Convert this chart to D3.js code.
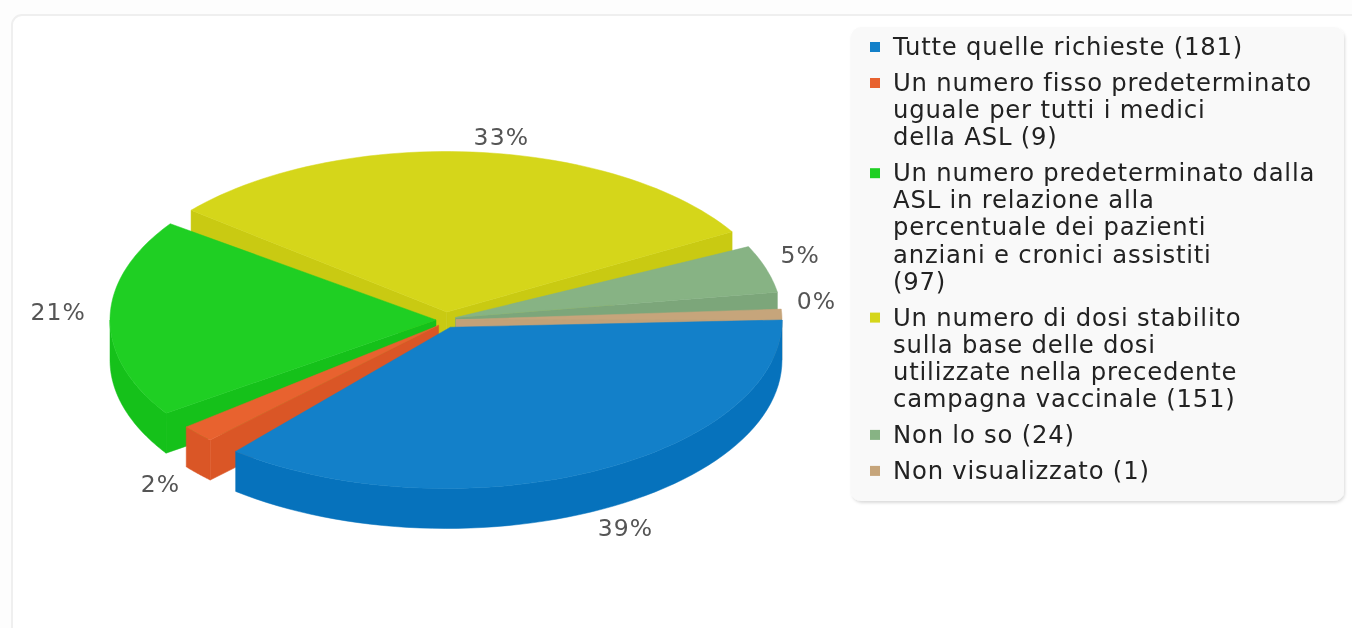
<!DOCTYPE html>
<html>
<head>
<meta charset="utf-8">
<script src="https://cdn.jsdelivr.net/npm/d3@7"></script>
<style>
html,body{margin:0;padding:0;background:#fdfdfd;overflow:hidden}
svg{display:block}
text{font-family:"DejaVu Sans",sans-serif}
</style>
</head>
<body>
<svg id="chart" width="1352" height="628"></svg>
<script>
// ---- data
const categories = ["Tutte quelle richieste","Un numero fisso predeterminato uguale per tutti i medici della ASL","Un numero predeterminato dalla ASL in relazione alla percentuale dei pazienti anziani e cronici assistiti","Un numero di dosi stabilito sulla base delle dosi utilizzate nella precedente campagna vaccinale","Non lo so","Non visualizzato"];
const seriesValues = [181, 9, 97, 151, 24, 1];
const legendLines = [
  ["Tutte quelle richieste (181)"],
  ["Un numero fisso predeterminato","uguale per tutti i medici","della ASL (9)"],
  ["Un numero predeterminato dalla","ASL in relazione alla","percentuale dei pazienti","anziani e cronici assistiti","(97)"],
  ["Un numero di dosi stabilito","sulla base delle dosi","utilizzate nella precedente","campagna vaccinale (151)"],
  ["Non lo so (24)"],
  ["Non visualizzato (1)"]
];
const topColors  = ["#1380c9","#e8622f","#1fcf23","#d5d61a","#87b384","#c6a57b"];
const sideColors = ["#0672bc","#da5626","#15c11a","#c9ca12","#7ca67a","#c2a178"];
// the source's projection squeezes the sweep: cumulative data degrees -> drawn degrees
const sweepDomain = [0, 140.7, 147.7, 223.1, 340.5, 359.2, 360];
const sweepRange  = [0, 131.6, 143.5, 217.7, 331.2, 353.2, 360];

// ---- layout
const svg = d3.select("#chart");
const cx = 446, cy = 320, rx = 336, ry = 168.5, depth = 40, gap = 2.9;
const rad = d => d * Math.PI / 180;
const warp = d3.scaleLinear().domain(sweepDomain).range(sweepRange);
const pie = d3.pie().sort(null).value(d => d).startAngle(0).endAngle(2 * Math.PI);
const pct = d3.format(".0%");
const total = d3.sum(seriesValues);

const slices = pie(seriesValues).map((s, i) => {
  const a0 = warp(s.startAngle * 180 / Math.PI) + (i > 0 ? gap : 0);
  const a1 = warp(s.endAngle * 180 / Math.PI) - (i < seriesValues.length - 1 ? gap : 0);
  const m = (a0 + a1) / 2;
  return {i, a0, a1, m, value: s.value,
    apex: [cx + 10 * Math.cos(rad(m)), cy + 8 * Math.sin(rad(m))]};
});

// card and legend panel
svg.append("defs").append("filter").attr("id","sh").attr("x","-5%").attr("y","-5%").attr("width","110%").attr("height","110%")
  .append("feDropShadow").attr("dx",1).attr("dy",2).attr("stdDeviation",1.5).attr("flood-color","#000").attr("flood-opacity",.14);
svg.append("rect").attr("x",12).attr("y",15).attr("width",1400).attr("height",700).attr("rx",10)
  .attr("fill","#fff").attr("stroke","#efefef").attr("stroke-width",2);

const line = d3.line();
const onEllipse = (a, dy = 0) => [cx + rx * Math.cos(rad(a)), cy + ry * Math.sin(rad(a)) + dy];
const arcPts = (a0, a1, dy = 0) => d3.range(0, 61).map(k => onEllipse(a0 + (a1 - a0) * k / 60, dy));

const pieG = svg.append("g").style("filter","blur(.3px)");
// painter's order: back slices first
[3, 4, 2, 5, 1, 0].forEach(idx => {
  const s = slices[idx];
  const g = pieG.append("g");
  const side = sideColors[idx], top = topColors[idx];
  const down = p => [p[0], p[1] + depth];
  // radial walls
  if (Math.cos(rad(s.a0)) < 0) {
    const p = onEllipse(s.a0);
    g.append("path").attr("d", line([s.apex, p, down(p), down(s.apex)]) + "Z").attr("fill", side).attr("stroke", side).attr("stroke-width", .5);
  }
  if (Math.cos(rad(s.a1)) > 0) {
    const p = onEllipse(s.a1);
    g.append("path").attr("d", line([s.apex, p, down(p), down(s.apex)]) + "Z").attr("fill", side).attr("stroke", side).attr("stroke-width", .5);
  }
  // curved outer wall, front half only
  const w0 = Math.max(s.a0, 0), w1 = Math.min(s.a1, 180);
  if (w1 > w0) {
    const up = arcPts(w0, w1), lo = arcPts(w1, w0, depth);
    g.append("path").attr("d", line(up.concat(lo)) + "Z").attr("fill", side).attr("stroke", side).attr("stroke-width", .5);
  }
  // top face
  g.append("path").attr("d", line([s.apex].concat(arcPts(s.a0, s.a1))) + "Z").attr("fill", top).attr("stroke", top).attr("stroke-width", .5);
});

// percentage labels
svg.append("g").style("filter","blur(.5px)").selectAll("text").data(slices).join("text")
  .attr("x", d => {
    const c = Math.cos(rad(d.m));
    return cx + (c >= 0 ? 351 : 360) * c;
  })
  .attr("y", d => {
    const sn = Math.sin(rad(d.m)), left = Math.cos(rad(d.m)) < 0;
    return cy + (sn > 0 ? 192 * sn + 34 : 170.5 * sn - (left ? 7 : 14)) + 8.5;
  })
  .attr("text-anchor", d => Math.cos(rad(d.m)) >= 0 ? "start" : "end")
  .attr("font-size", 23.5).attr("letter-spacing", 1.1).attr("fill", "#555")
  .text(d => pct(d.value / total));

// legend
svg.append("rect").attr("x",851).attr("y",27).attr("width",493).attr("height",474).attr("rx",10)
  .attr("fill","#f9f9f9").attr("filter","url(#sh)");
const lg = svg.append("g").style("filter","blur(.5px)");
const lineH = 27.1, rowGap = 36;
let y = 47;
legendLines.forEach((lines, i) => {
  lg.append("rect").attr("x",870).attr("y",y-5).attr("width",10).attr("height",10).attr("fill",topColors[i]);
  lines.forEach((t, j) => {
    lg.append("text").attr("x",893).attr("y",y + j*lineH + 8).attr("font-size",24.3).attr("letter-spacing",.8).attr("fill","#222")
      .text(t);
  });
  y += (lines.length-1)*lineH + rowGap;
});
</script>
</body>
</html>
